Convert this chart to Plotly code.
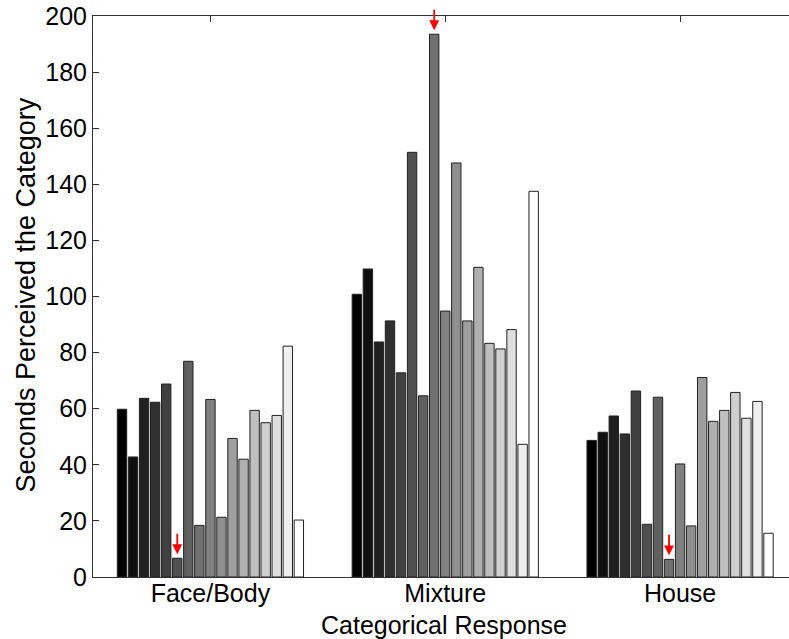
import plotly.graph_objects as go

categories = ["Face/Body", "Mixture", "House"]
face_body = [59.8, 42.8, 63.7, 62.3, 68.8, 6.7, 76.9, 18.4, 63.3, 21.3, 49.4, 42.0, 59.4, 55.0, 57.6, 82.3, 20.3]
mixture = [100.8, 109.8, 83.8, 91.3, 72.8, 151.4, 64.6, 193.5, 94.8, 147.6, 91.3, 110.4, 83.3, 81.3, 88.2, 47.3, 137.5]
house = [48.7, 51.6, 57.4, 51.0, 66.3, 18.8, 64.1, 6.3, 40.3, 18.2, 71.1, 55.5, 59.4, 65.8, 56.6, 62.6, 15.6]
# (group index, bar index) of marked bars
marked = [(0, 5), (1, 7), (2, 7)]
y_ticks = [0, 20, 40, 60, 80, 100, 120, 140, 160, 180, 200]
x_title = "Categorical Response"
y_title = "Seconds Perceived the Category"

n = len(face_body)
groups = [face_body, mixture, house]
bargap = 0.2

fig = go.Figure()
for k in range(n):
    g = int(round(255 * k / (n - 1)))
    col = f"rgb({g},{g},{g})"
    fig.add_trace(go.Bar(
        x=categories,
        y=[face_body[k], mixture[k], house[k]],
        marker=dict(color=col, line=dict(color="#222222", width=1)),
        showlegend=False,
    ))

slot = (1 - bargap) / n
for gi, bi in marked:
    xpos = gi - (1 - bargap) / 2 + (bi + 0.5) * slot
    fig.add_annotation(
        x=xpos, y=groups[gi][bi], xref="x", yref="y",
        text="", showarrow=True, ax=0, ay=-26, axref="pixel", ayref="pixel",
        arrowhead=2, arrowsize=1.1, arrowwidth=1.8, arrowcolor="red", standoff=4,
    )

# axis titles as paper-positioned texts
fig.add_annotation(text=x_title, xref="paper", yref="paper", x=0.505, y=-0.085,
                   xanchor="center", yanchor="middle", showarrow=False,
                   font=dict(size=25))
fig.add_annotation(text=y_title, xref="paper", yref="paper", x=-0.096, y=0.502,
                   xanchor="center", yanchor="middle", textangle=-90, showarrow=False,
                   font=dict(size=27))

font = "Liberation Sans, Arial, Helvetica, sans-serif"
fig.update_layout(
    width=789, height=639,
    margin=dict(l=92.5, r=0, t=15.5, b=62),
    plot_bgcolor="white", paper_bgcolor="white",
    barmode="group", bargap=bargap, bargroupgap=0.15,
    font=dict(family=font, size=25, color="black"),
    xaxis=dict(
        type="category", range=[-0.5, 2.4638], automargin=False,
        showline=True, linecolor="#333333", linewidth=1, mirror="ticks",
        ticks="inside", ticklen=6, tickcolor="#333333",
        layer="below traces", ticklabelstandoff=-6,
        tickfont=dict(size=25),
    ),
    yaxis=dict(
        range=[0, 200], tickvals=y_ticks, automargin=False,
        showline=True, linecolor="#333333", linewidth=1,
        ticks="inside", ticklen=6, tickcolor="#333333",
        showgrid=False, zeroline=False,
        tickfont=dict(size=25),
    ),
)

fig.write_html("out.html", config={"displayModeBar": False},
               post_script="document.body.style.margin='0px';document.body.style.overflow='hidden';")
